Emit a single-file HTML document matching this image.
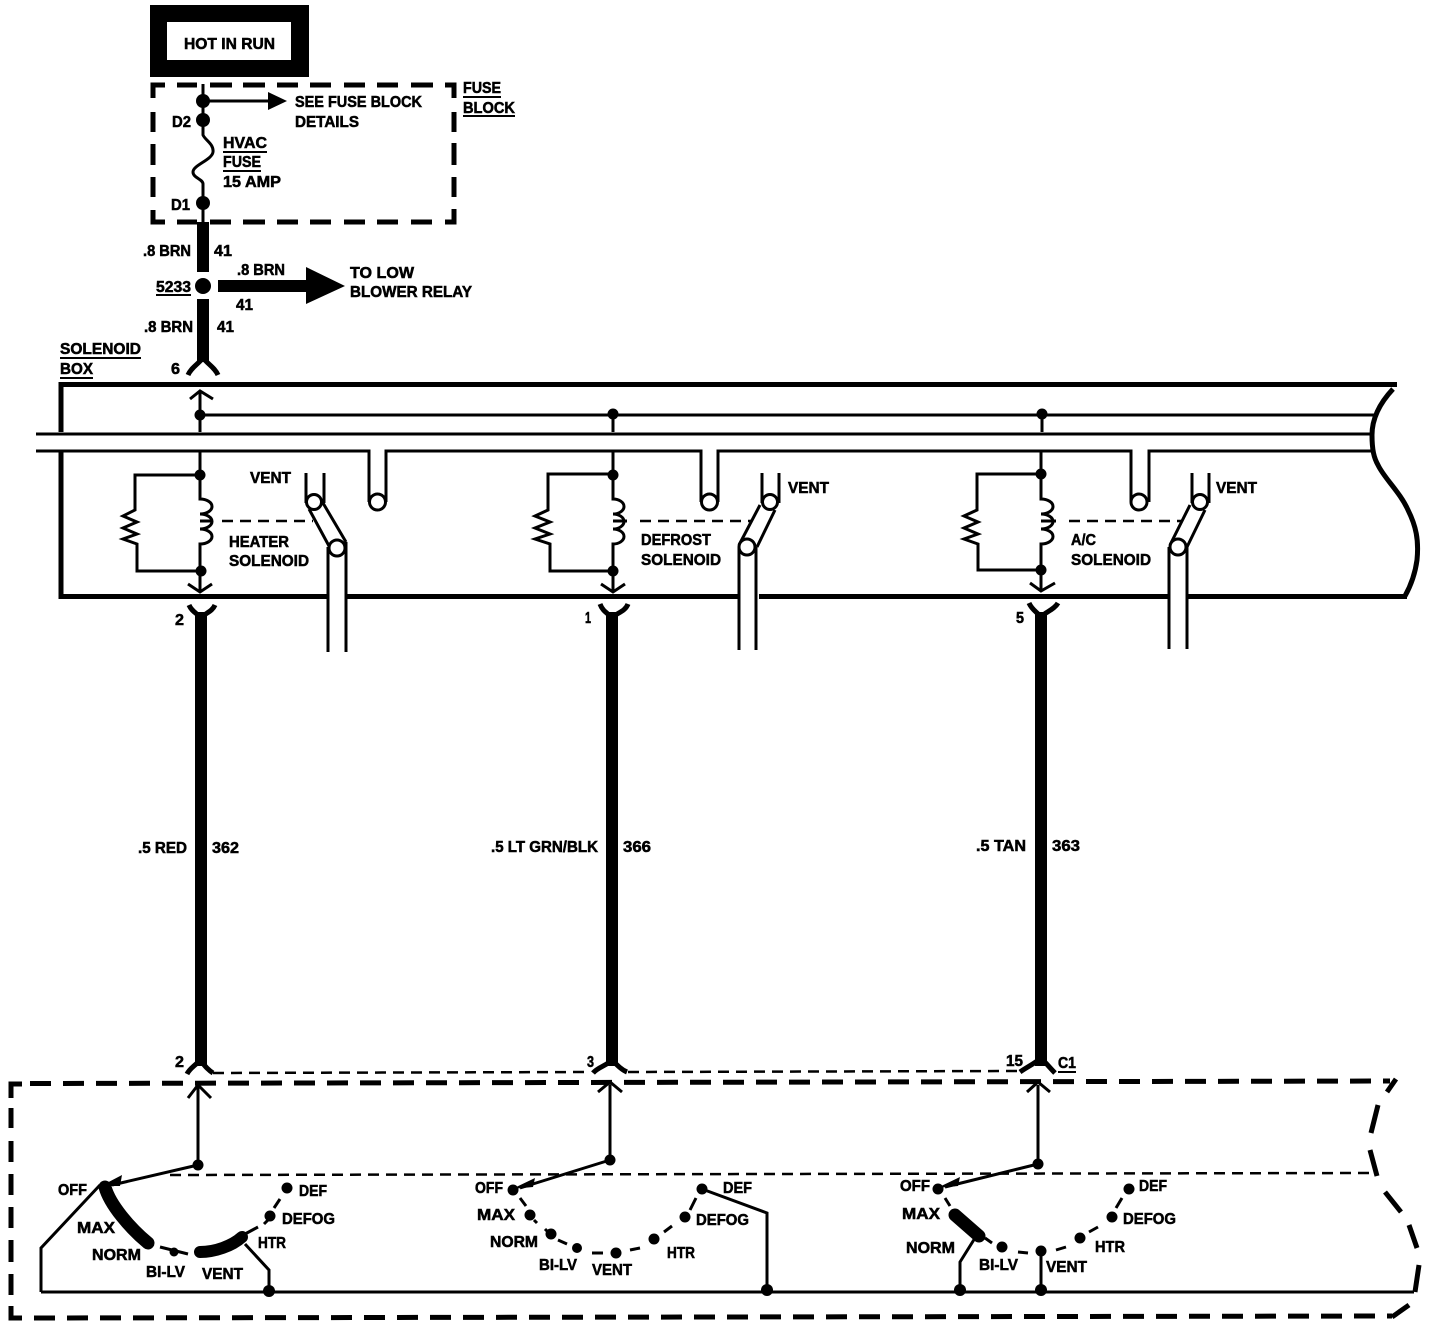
<!DOCTYPE html>
<html><head><meta charset="utf-8"><title>HVAC solenoid wiring diagram</title>
<style>
html,body{margin:0;padding:0;background:#fff}
svg{display:block}
text{font-family:"Liberation Sans",sans-serif;font-weight:bold;font-size:16px;fill:#000;stroke:#000;stroke-width:.55}
.l{stroke:#000;stroke-width:3;fill:none}
.d{stroke:#000;stroke-width:5;fill:none;stroke-dasharray:21 12}
.t{stroke:#000;stroke-width:5;fill:none}
.n{stroke:#000;stroke-width:2.5;fill:none;stroke-dasharray:11 7}
.w{stroke:#000;stroke-width:12;fill:none}
.o{stroke:#000;stroke-width:3;fill:#fff}
.b{stroke:#000;stroke-width:12;fill:none;stroke-linecap:round}
</style></head><body>
<svg width="1440" height="1330" viewBox="0 0 1440 1330" xmlns="http://www.w3.org/2000/svg">
<rect width="1440" height="1330" fill="#fff"/>

<!-- HOT IN RUN -->
<rect x="150" y="5" width="159" height="72" fill="#000"/>
<rect x="167" y="22" width="124" height="38" fill="#fff"/>
<text x="184" y="49" textLength="91" lengthAdjust="spacingAndGlyphs">HOT IN RUN</text>

<!-- Fuse block -->
<path class="t" d="M165 85H153V98M153 112V132M153 144V165M153 177V197M153 210V222H165M177 222H197M210 222H231M243 222H265M277 222H298M310 222H331M344 222H365M377 222H398M411 222H432M445 222H454V209M454 197V177M454 165V143M454 132V112M454 98V85H445M433 85H411M398 85H377M365 85H344M331 85H310M298 85H277M265 85H243M232 85H210M197 85H177"/>
<path class="l" d="M203 84V135C205 140 214 144 213 152C212 160 193 165 193 172C193 178 203 179 203 184V222"/>
<circle cx="203" cy="101" r="7"/><circle cx="203" cy="120" r="7"/><circle cx="203" cy="203" r="7"/>
<path class="l" d="M203 101H270"/><path d="M268 92L287 101L268 110Z"/>
<text x="295" y="107" textLength="127" lengthAdjust="spacingAndGlyphs">SEE FUSE BLOCK</text>
<text x="295" y="127" textLength="64" lengthAdjust="spacingAndGlyphs">DETAILS</text>
<text x="223" y="148" textLength="44" lengthAdjust="spacingAndGlyphs">HVAC</text>
<path d="M223 152H267M223 171H261M463 97H501M463 116H515M156 295H191M60 358H141M60 378H93M1058 1072H1076" stroke="#000" stroke-width="2" fill="none"/>
<text x="223" y="167" textLength="38" lengthAdjust="spacingAndGlyphs">FUSE</text>
<text x="223" y="187" textLength="58" lengthAdjust="spacingAndGlyphs">15 AMP</text>
<text x="172" y="127" textLength="19" lengthAdjust="spacingAndGlyphs">D2</text>
<text x="171" y="210" textLength="19" lengthAdjust="spacingAndGlyphs">D1</text>
<text x="463" y="93" textLength="38" lengthAdjust="spacingAndGlyphs">FUSE</text>
<text x="463" y="113" textLength="52" lengthAdjust="spacingAndGlyphs">BLOCK</text>

<!-- Feed -->
<path class="w" d="M203 222V272M203 299V362"/>
<circle cx="203" cy="286" r="8"/>
<path d="M188 375C191 368 197 365 203 358C209 365 215 368 218 375" stroke="#000" stroke-width="5" fill="none"/>
<path class="w" d="M218 286H308"/><path d="M306 267L345 286L306 304Z"/>
<text x="143" y="256" textLength="48" lengthAdjust="spacingAndGlyphs">.8 BRN</text>
<text x="214" y="256" textLength="18" lengthAdjust="spacingAndGlyphs">41</text>
<text x="237" y="275" textLength="48" lengthAdjust="spacingAndGlyphs">.8 BRN</text>
<text x="236" y="310" textLength="17" lengthAdjust="spacingAndGlyphs">41</text>
<text x="144" y="332" textLength="49" lengthAdjust="spacingAndGlyphs">.8 BRN</text>
<text x="217" y="332" textLength="17" lengthAdjust="spacingAndGlyphs">41</text>
<text x="156" y="292" textLength="35" lengthAdjust="spacingAndGlyphs">5233</text>
<text x="350" y="278" textLength="64" lengthAdjust="spacingAndGlyphs">TO LOW</text>
<text x="350" y="297" textLength="122" lengthAdjust="spacingAndGlyphs">BLOWER RELAY</text>
<text x="60" y="354" textLength="81" lengthAdjust="spacingAndGlyphs">SOLENOID</text>
<text x="60" y="374" textLength="33" lengthAdjust="spacingAndGlyphs">BOX</text>
<text x="171" y="374" textLength="9" lengthAdjust="spacingAndGlyphs">6</text>

<!-- Solenoid box outline -->
<path class="t" d="M1397 384.500H61V432M61 452V596.500H327M346 596.500H738M759 596.500H1168M1187 596.500H1407"/>
<path class="t" d="M1393 389C1378 405 1372 420 1372 435C1372 450 1374 458 1378 465C1384 478 1400 492 1408 510C1416 526 1419 540 1417 560C1415 575 1410 587 1405 596"/>
<path class="l" d="M200 415H1376M36 434H1372"/>
<path class="l" d="M36 451H369V502M386 502V451H701V502M718 502V451H1131V502M1149 502V451H1372"/>
<circle class="o" cx="377.500" cy="502" r="8"/><circle class="o" cx="709.500" cy="502" r="8"/><circle class="o" cx="1139" cy="502" r="8"/>

<!-- Heater solenoid -->
<path class="l" d="M200 392V432M190 399L200 391L213 399"/>
<circle cx="200" cy="415" r="5.500"/>
<path class="l" d="M200 452V499a12 7.500 0 0 1 0 15a12 7.500 0 0 1 0 15a12 7.500 0 0 1 0 15V591M188 584L200 592L212 584"/>
<circle cx="200" cy="475" r="5.500"/><circle cx="201" cy="571" r="5.500"/>
<path class="l" d="M200 475H135V510L123 516L137 522L123 528L137 534L123 539L137 544V571H200"/>
<path d="M200 521H213" stroke="#000" stroke-width="3"/>
<path class="n" style="stroke-dasharray:11 7" d="M222 521H313"/>
<path class="l" d="M306 473V503M324 473V503M309 509L329 546M323 503L346 542M328 547V652M346 542V652"/>
<circle class="o" cx="314" cy="502" r="7.500"/><circle class="o" cx="337" cy="548" r="8"/>
<text x="250" y="483" textLength="41" lengthAdjust="spacingAndGlyphs">VENT</text>
<text x="229" y="547" textLength="60" lengthAdjust="spacingAndGlyphs">HEATER</text>
<text x="229" y="566" textLength="80" lengthAdjust="spacingAndGlyphs">SOLENOID</text>

<!-- Defrost solenoid -->
<path class="l" d="M613 415V432M613 452V499a11 7.500 0 0 1 0 15a11 7.500 0 0 1 0 15a11 7.500 0 0 1 0 15V591M601 584L613 592L625 584"/>
<circle cx="613" cy="414" r="5.500"/><circle cx="613" cy="475" r="5.500"/><circle cx="613" cy="571" r="5.500"/>
<path class="l" d="M613 474H548V510L535 516L550 522L535 528L550 534L535 539L550 544V571H613"/>
<path d="M613 521H627" stroke="#000" stroke-width="3"/>
<path class="n" style="stroke-dasharray:11 7" d="M640 521H752"/>
<path class="l" d="M762 473V503M779 473V503M760 505L739 545M775 510L757 547M739 547V650M756 547V650"/>
<circle class="o" cx="770" cy="502" r="7.500"/><circle class="o" cx="747" cy="547" r="8"/>
<text x="788" y="493" textLength="41" lengthAdjust="spacingAndGlyphs">VENT</text>
<text x="641" y="545" textLength="70" lengthAdjust="spacingAndGlyphs">DEFROST</text>
<text x="641" y="565" textLength="80" lengthAdjust="spacingAndGlyphs">SOLENOID</text>

<!-- A/C solenoid -->
<path class="l" d="M1042 415V432M1041 452V499a12 7.500 0 0 1 0 15a12 7.500 0 0 1 0 15a12 7.500 0 0 1 0 15V590M1030 583L1041 591L1055 583"/>
<circle cx="1042" cy="414" r="5.500"/><circle cx="1041" cy="474" r="5.500"/><circle cx="1041" cy="570" r="5.500"/>
<path class="l" d="M1041 474H977V510L964 516L978 522L964 528L978 534L964 539L978 544V570H1041"/>
<path d="M1041 521H1056" stroke="#000" stroke-width="3"/>
<path class="n" style="stroke-dasharray:11 7" d="M1069 521H1182"/>
<path class="l" d="M1192 473V503M1209 473V503M1190 505L1170 545M1205 510L1187 547M1169 547V649M1187 547V649"/>
<circle class="o" cx="1200" cy="502" r="7.500"/><circle class="o" cx="1178" cy="547" r="8"/>
<text x="1216" y="493" textLength="41" lengthAdjust="spacingAndGlyphs">VENT</text>
<text x="1071" y="545" textLength="25" lengthAdjust="spacingAndGlyphs">A/C</text>
<text x="1071" y="565" textLength="80" lengthAdjust="spacingAndGlyphs">SOLENOID</text>

<!-- Long wires -->
<path class="w" d="M201 612V1066M612 612V1066M1041 612V1066"/>
<path class="t" d="M189 605C192 612 197 613 201 618C205 613 212 612 215 605M600 604C603 612 608 613 612 618C616 613 625 612 628 604M1029 603C1032 610 1037 612 1041 617C1045 612 1054 610 1058 603"/>
<path class="t" d="M187 1074C190 1068 195 1066 200 1060C205 1066 208 1070 213 1073M593 1073C598 1067 606 1066 612 1060C618 1066 622 1070 627 1072M1020 1072C1027 1067 1034 1064 1041 1058C1047 1064 1050 1068 1055 1073"/>
<text x="175" y="625" textLength="9" lengthAdjust="spacingAndGlyphs">2</text>
<text x="585" y="623" textLength="6" lengthAdjust="spacingAndGlyphs">1</text>
<text x="1016" y="623" textLength="8" lengthAdjust="spacingAndGlyphs">5</text>
<text x="138" y="853" textLength="49" lengthAdjust="spacingAndGlyphs">.5 RED</text>
<text x="212" y="853" textLength="27" lengthAdjust="spacingAndGlyphs">362</text>
<text x="491" y="852" textLength="107" lengthAdjust="spacingAndGlyphs">.5 LT GRN/BLK</text>
<text x="623" y="852" textLength="28" lengthAdjust="spacingAndGlyphs">366</text>
<text x="976" y="851" textLength="50" lengthAdjust="spacingAndGlyphs">.5 TAN</text>
<text x="1052" y="851" textLength="28" lengthAdjust="spacingAndGlyphs">363</text>
<text x="175" y="1067" textLength="9" lengthAdjust="spacingAndGlyphs">2</text>
<text x="587" y="1067" textLength="7" lengthAdjust="spacingAndGlyphs">3</text>
<text x="1006" y="1066" textLength="17" lengthAdjust="spacingAndGlyphs">15</text>
<text x="1058" y="1068" textLength="18" lengthAdjust="spacingAndGlyphs">C1</text>

<!-- Control head boundary -->
<path class="n" d="M213 1073L590 1072M628 1072L1018 1071"/>
<path class="d" d="M30 1083.500L1390 1081"/>
<path class="t" d="M11 1098V1084H22M11 1108V1128M11 1141V1162M11 1174V1195M11 1207V1228M11 1240V1262M11 1274V1295M11 1306V1318H22"/>
<path class="d" d="M34 1318L1392 1316"/>
<path class="t" d="M1396 1079L1387 1092M1378 1105L1371 1133M1370 1150L1377 1176M1385 1192L1401 1212M1409 1225L1417 1248M1419 1265L1415 1292M1409 1305L1392 1317"/>
<path class="n" d="M170 1175L1376 1173"/>
<path class="l" d="M41 1292H1414M41 1292V1248L100 1185"/>

<!-- Heater selector -->
<path class="l" d="M198 1165V1086M188 1098L198 1085L211 1098M198 1165L112 1185"/>
<circle cx="198" cy="1165" r="5.500"/>
<path d="M101 1186L122 1175L120 1186Z"/>
<path class="b" style="stroke-width:13" d="M105 1187C110 1205 130 1228 148 1243"/>
<path class="l" d="M160 1247L188 1254"/><circle cx="174" cy="1252" r="4.500"/>
<path class="b" d="M200 1252C215 1252 232 1246 242 1237"/>
<path class="l" d="M245 1234L258 1227M264 1224L268 1220M274 1208L280 1199M245 1244L269 1270V1292"/>
<circle cx="270" cy="1216" r="5.500"/><circle cx="287" cy="1188" r="5.500"/><circle cx="269" cy="1291" r="6"/>
<text x="58" y="1195" textLength="29" lengthAdjust="spacingAndGlyphs">OFF</text>
<text x="299" y="1196" textLength="28" lengthAdjust="spacingAndGlyphs">DEF</text>
<text x="282" y="1224" textLength="53" lengthAdjust="spacingAndGlyphs">DEFOG</text>
<text x="77" y="1233" textLength="38" lengthAdjust="spacingAndGlyphs">MAX</text>
<text x="258" y="1248" textLength="28" lengthAdjust="spacingAndGlyphs">HTR</text>
<text x="92" y="1260" textLength="49" lengthAdjust="spacingAndGlyphs">NORM</text>
<text x="146" y="1277" textLength="39" lengthAdjust="spacingAndGlyphs">BI-LV</text>
<text x="202" y="1279" textLength="41" lengthAdjust="spacingAndGlyphs">VENT</text>

<!-- Defrost selector -->
<path class="l" d="M610 1160V1085M598 1092L610 1082L622 1092M610 1160L520 1188"/>
<circle cx="610" cy="1160" r="5.500"/>
<path d="M512 1189L535 1178L533 1187Z"/>
<path class="l" d="M520 1198L526 1206M534 1220L537 1223M545 1229L548 1232M558 1240L567 1244M592 1253L603 1253M630 1250L640 1248M664 1232L672 1226M690 1210L696 1198M702 1189L767 1213V1290"/>
<circle cx="513" cy="1190" r="5.500"/><circle cx="530" cy="1215" r="5.500"/><circle cx="551" cy="1234" r="5.500"/><circle cx="577" cy="1248" r="5"/><circle cx="616" cy="1253" r="5.500"/><circle cx="654" cy="1239" r="5.500"/><circle cx="685" cy="1217" r="5.500"/><circle cx="702" cy="1189" r="5.500"/><circle cx="767" cy="1290" r="6"/>
<text x="475" y="1193" textLength="28" lengthAdjust="spacingAndGlyphs">OFF</text>
<text x="477" y="1220" textLength="38" lengthAdjust="spacingAndGlyphs">MAX</text>
<text x="490" y="1247" textLength="48" lengthAdjust="spacingAndGlyphs">NORM</text>
<text x="539" y="1270" textLength="38" lengthAdjust="spacingAndGlyphs">BI-LV</text>
<text x="592" y="1275" textLength="40" lengthAdjust="spacingAndGlyphs">VENT</text>
<text x="667" y="1258" textLength="28" lengthAdjust="spacingAndGlyphs">HTR</text>
<text x="696" y="1225" textLength="53" lengthAdjust="spacingAndGlyphs">DEFOG</text>
<text x="723" y="1193" textLength="29" lengthAdjust="spacingAndGlyphs">DEF</text>

<!-- A/C selector -->
<path class="l" d="M1038 1164V1085M1027 1092L1038 1082L1050 1092M1038 1164L945 1187"/>
<circle cx="1038" cy="1164" r="5.500"/>
<path d="M937 1188L960 1177L958 1186Z"/>
<path class="l" d="M945 1198L950 1206M985 1238L992 1243M1018 1252L1028 1253M1056 1250L1066 1247M1089 1232L1098 1227M1116 1208L1122 1198M975 1238L960 1262V1290M1041 1251V1290"/>
<path class="b" style="stroke-width:13" d="M955 1215L979 1236"/>
<circle cx="938" cy="1189" r="5.500"/><circle cx="1002" cy="1247" r="5.500"/><circle cx="1041" cy="1251" r="5.500"/><circle cx="1080" cy="1238" r="5.500"/><circle cx="1112" cy="1217" r="5.500"/><circle cx="1129" cy="1189" r="5.500"/><circle cx="960" cy="1290" r="6"/><circle cx="1041" cy="1290" r="6"/>
<text x="900" y="1191" textLength="30" lengthAdjust="spacingAndGlyphs">OFF</text>
<text x="902" y="1219" textLength="38" lengthAdjust="spacingAndGlyphs">MAX</text>
<text x="906" y="1253" textLength="49" lengthAdjust="spacingAndGlyphs">NORM</text>
<text x="979" y="1270" textLength="39" lengthAdjust="spacingAndGlyphs">BI-LV</text>
<text x="1046" y="1272" textLength="41" lengthAdjust="spacingAndGlyphs">VENT</text>
<text x="1095" y="1252" textLength="30" lengthAdjust="spacingAndGlyphs">HTR</text>
<text x="1123" y="1224" textLength="53" lengthAdjust="spacingAndGlyphs">DEFOG</text>
<text x="1139" y="1191" textLength="28" lengthAdjust="spacingAndGlyphs">DEF</text>
</svg>
</body></html>
